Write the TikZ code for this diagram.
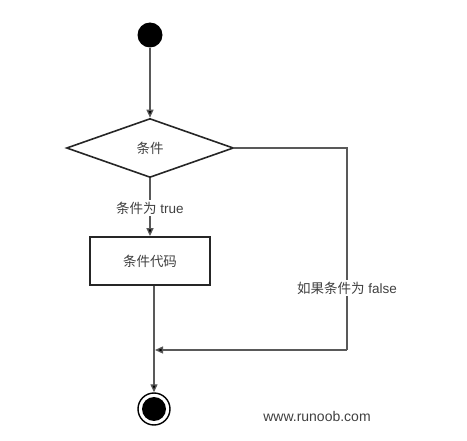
\documentclass[tikz,border=0pt]{standalone}
\usepackage{fontspec}
\setmainfont{Liberation Sans}
\newfontfamily\cjk{Noto Sans CJK SC}
\usetikzlibrary{arrows.meta,shapes.geometric}
\begin{document}
\begin{tikzpicture}[x=1pt,y=-1pt,
  conn/.style={draw=black!65,line width=1.3pt,-{Triangle[length=8pt,width=7pt,fill=black]}},
  plain/.style={draw=black!65,line width=1.3pt},
  txt/.style={text=black!75,font=\fontsize{13.5}{15}\selectfont},
  lbl/.style={txt,fill=white,inner sep=1.5pt}]
\useasboundingbox (0,0) rectangle (467,441);
\node[circle,fill=black,minimum size=25pt,inner sep=0pt] (start) at (150,35) {};
\node[diamond,draw=black!85,line width=1.6pt,minimum width=167pt,minimum height=59pt,inner sep=0pt,aspect=2.8,txt] (cond) at (150,148) {\cjk 条件};
\node[draw=black!85,line width=1.8pt,minimum width=120pt,minimum height=48pt,inner sep=0pt,txt] (code) at (150,261) {\cjk 条件代码};
\node[circle,draw=black,line width=1.4pt,minimum size=32pt,inner sep=0pt] (endo) at (154,409) {};
\node[circle,fill=black,minimum size=24pt,inner sep=0pt] (endi) at (154,409) {};
\coordinate (rt) at (347,148);
\coordinate (rb) at (347,350);
\coordinate (merge) at (155,350);
\coordinate (cs) at (code.south -| endo);
\draw[conn] (start) -- (cond.north);
\draw[conn] (cond.south) -- (code.north);
\node[lbl] (tl) at (150,208) {{\cjk 条件为} true};
\draw[plain] (cond.east) -- (rt) -- (rb);
\draw[conn] (rb) -- (merge);
\node[lbl] (fl) at (347,288) {{\cjk 如果条件为} false};
\draw[conn] (cs) -- (endo.north);
\node[txt,font=\fontsize{14}{16}\selectfont] (www) at (317,416) {www.runoob.com};
\end{tikzpicture}
\end{document}
